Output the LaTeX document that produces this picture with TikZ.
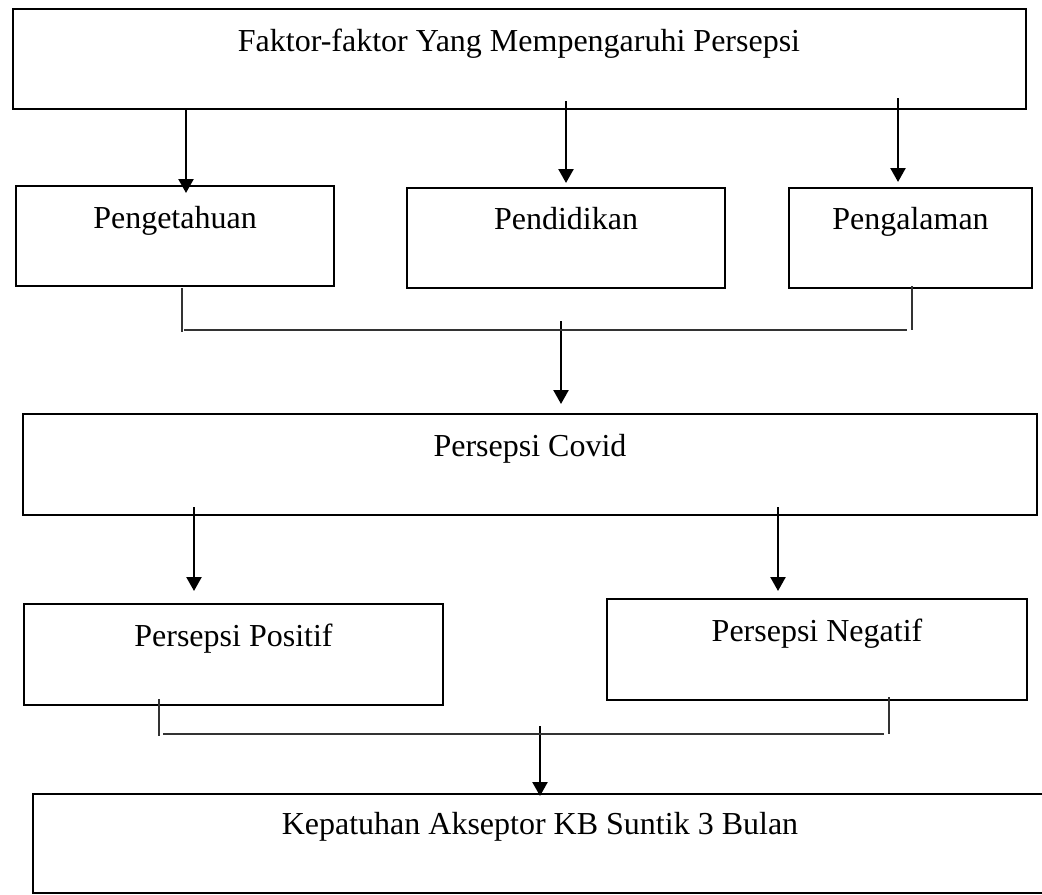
\documentclass[tikz,border=0pt]{standalone}
\usepackage{fontspec}
\setmainfont{Liberation Serif}
\usetikzlibrary{arrows.meta}
\tikzset{
  boxline/.style={draw=black, line width=1.4pt},
  lbl/.style={anchor=base, inner sep=0pt, font=\fontsize{16}{19}\selectfont},
  arr/.style={line width=1.2pt, -{Triangle[width=7.5pt,length=7pt]}},
  thin/.style={line width=0.55pt, draw=black!80},
}
\begin{document}
\begin{tikzpicture}[x=0.5pt,y=-0.5pt]
\clip (0,0) rectangle (1042,894);
\fill[white] (0,0) rectangle (1042,894);
% boxes
\draw[boxline] (13,9) rectangle (1026,109);
\node[lbl] (ttop) at (519,51) {Faktor-faktor Yang Mempengaruhi Persepsi};
\draw[boxline] (16,186) rectangle (334,286);
\node[lbl] (tpeng) at (175,228) {Pengetahuan};
\draw[boxline] (407,188) rectangle (725,288);
\node[lbl] (tpend) at (566,229) {Pendidikan};
\draw[boxline] (789,188) rectangle (1032,288);
\node[lbl] (tpgl) at (910.5,229) {Pengalaman};
\draw[boxline] (23,414) rectangle (1037,515);
\node[lbl] (tcov) at (530,456) {Persepsi Covid};
\draw[boxline] (24,604) rectangle (443,705);
\node[lbl] (tpos) at (233.5,646) {Persepsi Positif};
\draw[boxline] (607,599) rectangle (1027,700);
\node[lbl] (tneg) at (817,641) {Persepsi Negatif};
\draw[boxline] (33,794) rectangle (1060,893);
\node[lbl] (tkep) at (540,834) {Kepatuhan Akseptor KB Suntik 3 Bulan};
% arrow coordinates
\coordinate (a1s) at (186,109); \coordinate (a1e) at (186,193);
\coordinate (a2s) at (566,101); \coordinate (a2e) at (566,183);
\coordinate (a3s) at (898,98);  \coordinate (a3e) at (898,182);
\coordinate (a4s) at (561,321); \coordinate (a4e) at (561,404);
\coordinate (a5s) at (194,507); \coordinate (a5e) at (194,591);
\coordinate (a6s) at (778,507); \coordinate (a6e) at (778,591);
\coordinate (a7s) at (540,726); \coordinate (a7e) at (540,796);
\draw[arr] (a1s) -- (a1e);
\draw[arr] (a2s) -- (a2e);
\draw[arr] (a3s) -- (a3e);
\draw[arr] (a4s) -- (a4e);
\draw[arr] (a5s) -- (a5e);
\draw[arr] (a6s) -- (a6e);
\draw[arr] (a7s) -- (a7e);
% thin joining lines
\coordinate (j1a) at (182,288); \coordinate (j1b) at (182,332);
\coordinate (j1c) at (184,330); \coordinate (j1d) at (907,330);
\coordinate (j1e) at (912,286); \coordinate (j1f) at (912,330);
\draw[thin] (j1a) -- (j1b);
\draw[thin] (j1c) -- (j1d);
\draw[thin] (j1e) -- (j1f);
\coordinate (j2a) at (159,699); \coordinate (j2b) at (159,736);
\coordinate (j2c) at (163,734); \coordinate (j2d) at (884,734);
\coordinate (j2e) at (889,697); \coordinate (j2f) at (889,734);
\draw[thin] (j2a) -- (j2b);
\draw[thin] (j2c) -- (j2d);
\draw[thin] (j2e) -- (j2f);
\end{tikzpicture}
\end{document}
